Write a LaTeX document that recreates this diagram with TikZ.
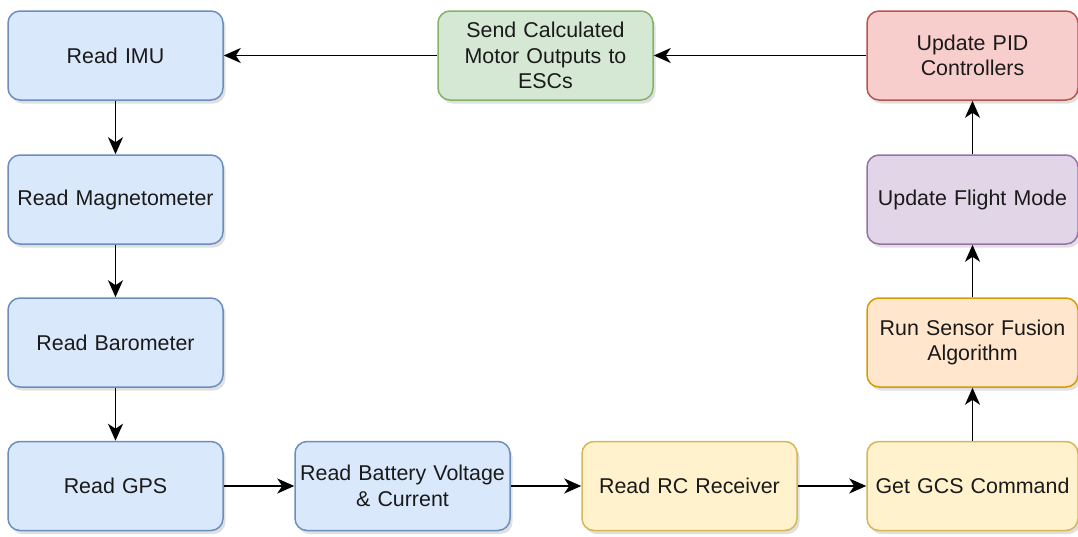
\documentclass[tikz,border=0pt]{standalone}
\usepackage{fontspec}
\setmainfont{Liberation Sans}
\usetikzlibrary{arrows.meta,shadows}
\definecolor{bluef}{HTML}{DAE8FC}\definecolor{blued}{HTML}{6C8EBF}
\definecolor{greenf}{HTML}{D5E8D4}\definecolor{greend}{HTML}{82B366}
\definecolor{redf}{HTML}{F8CECC}\definecolor{redd}{HTML}{B85450}
\definecolor{purf}{HTML}{E1D5E7}\definecolor{purd}{HTML}{9673A6}
\definecolor{oraf}{HTML}{FFE6CC}\definecolor{orad}{HTML}{D79B00}
\definecolor{yelf}{HTML}{FFF2CC}\definecolor{yeld}{HTML}{D6B656}
\definecolor{txt}{HTML}{1A1A1A}
\begin{document}
\begin{tikzpicture}[x=1pt,y=1pt,
  box/.style={rounded corners=12pt, line width=1.5pt, minimum width=215pt, minimum height=89pt,
    inner sep=2pt, align=center, text width=207pt, text=txt,
    font=\fontsize{21.4}{25.5}\selectfont,
    drop shadow={shadow xshift=2.5pt, shadow yshift=-3.5pt, opacity=0.2, fill=black!60}},
  bluebox/.style={box, fill=bluef, draw=blued},
  greenbox/.style={box, fill=greenf, draw=greend},
  redbox/.style={box, fill=redf, draw=redd},
  purbox/.style={box, fill=purf, draw=purd},
  orabox/.style={box, fill=oraf, draw=orad},
  yelbox/.style={box, fill=yelf, draw=yeld},
  narrow/.style={minimum width=209pt, text width=207pt},
  conn/.style={line width=1.7pt, -{Stealth[length=17pt,width=15pt,inset=5pt]}}
]
\useasboundingbox (0,0) rectangle (1078,-536);
\node[bluebox] (imu) at (115.5,-55.5) {Read IMU};
\node[bluebox] (mag) at (115.5,-199.5) {Read Magnetometer};
\node[bluebox] (baro) at (115.5,-342.5) {Read Barometer};
\node[bluebox] (gps) at (115.5,-486) {Read GPS};
\node[bluebox] (bat) at (402.5,-486) {Read Battery Voltage\\ \& Current};
\node[yelbox] (rc) at (689.5,-486) {Read RC Receiver};
\node[yelbox,narrow] (gcs) at (972.5,-486) {Get GCS Command};
\node[orabox,narrow] (fus) at (972.5,-342.5) {Run Sensor Fusion\\ Algorithm};
\node[purbox,narrow] (fm) at (972.5,-199.5) {Update Flight Mode};
\node[redbox,narrow] (pid) at (972.5,-55.5) {Update PID\\ Controllers};
\node[greenbox] (esc) at (545.5,-55.5) {Send Calculated\\ Motor Outputs to\\ ESCs};
\draw[conn] (imu) -- (mag);
\draw[conn] (mag) -- (baro);
\draw[conn] (baro) -- (gps);
\draw[conn] (gps) -- (bat);
\draw[conn] (bat) -- (rc);
\draw[conn] (rc) -- (gcs);
\draw[conn] (gcs) -- (fus);
\draw[conn] (fus) -- (fm);
\draw[conn] (fm) -- (pid);
\draw[conn] (pid) -- (esc);
\draw[conn] (esc) -- (imu);
\end{tikzpicture}
\end{document}
